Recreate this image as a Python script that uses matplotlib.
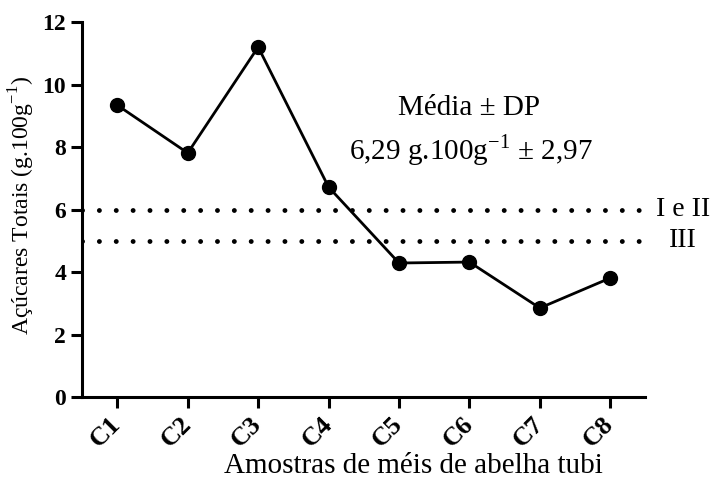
import numpy as np
import matplotlib.pyplot as plt

plt.rcParams['font.family'] = ['Liberation Serif', 'DejaVu Serif']
plt.rcParams['mathtext.fontset'] = 'custom'
plt.rcParams['mathtext.rm'] = 'Liberation Serif'

samples = ['C1', 'C2', 'C3', 'C4', 'C5', 'C6', 'C7', 'C8']
acucares = [9.34, 7.81, 11.2, 6.72, 4.29, 4.32, 2.85, 3.81]
limites = [6, 5]
limite_labels = ['I e II', 'III']

fig = plt.figure(figsize=(7.14, 4.79), dpi=100)
ax = fig.add_axes([0.115, 0.171, 0.789, 0.783])

x = np.arange(len(samples))
ax.plot(x, acucares, color='k', lw=2, marker='o', ms=10, zorder=3)

for val in limites:
    ax.plot([-0.5, 7.42], [val, val], color='k', lw=3.5,
            linestyle=(0, (0.01, 3.46)), dash_capstyle='round', zorder=2)
ax.text(1.018, limites[0], limite_labels[0], transform=ax.get_yaxis_transform(),
        fontsize=20, va='center', ha='left')
ax.text(1.041, limites[1], limite_labels[1], transform=ax.get_yaxis_transform(),
        fontsize=20, va='center', ha='left')

ax.text(5.0, 9.25, 'Média ± DP', fontsize=21, ha='center', va='center')
ax.text(5.02, 7.9, '6,29 g.100g$^{-1}$ ± 2,97', fontsize=21,
        ha='center', va='center')

ax.set_xlim(-0.5, 7.5)
ax.set_ylim(0, 12)
ax.set_yticks(np.arange(0, 13, 2))
ax.set_xticks(x)
ax.set_xticklabels(samples, rotation=45, rotation_mode='anchor',
                   ha='right', va='center', fontsize=19, fontweight='bold')
for t in ax.get_yticklabels():
    t.set_fontsize(17)
    t.set_fontweight('bold')

ax.spines['top'].set_visible(False)
ax.spines['right'].set_visible(False)
ax.spines['left'].set_linewidth(2.2)
ax.spines['bottom'].set_linewidth(2.2)
ax.tick_params(width=2.2, length=8, direction='out')
ax.tick_params(axis='x', pad=9)

ax.set_ylabel('Açúcares Totais (g.100g$^{-1}$)', fontsize=17, va='center')
ax.yaxis.set_label_coords(-0.107, 0.51)
ax.set_xlabel('Amostras de méis de abelha tubi', fontsize=21, va='center')
ax.xaxis.set_label_coords(0.588, -0.184)

fig.savefig('out.png', dpi=100)
